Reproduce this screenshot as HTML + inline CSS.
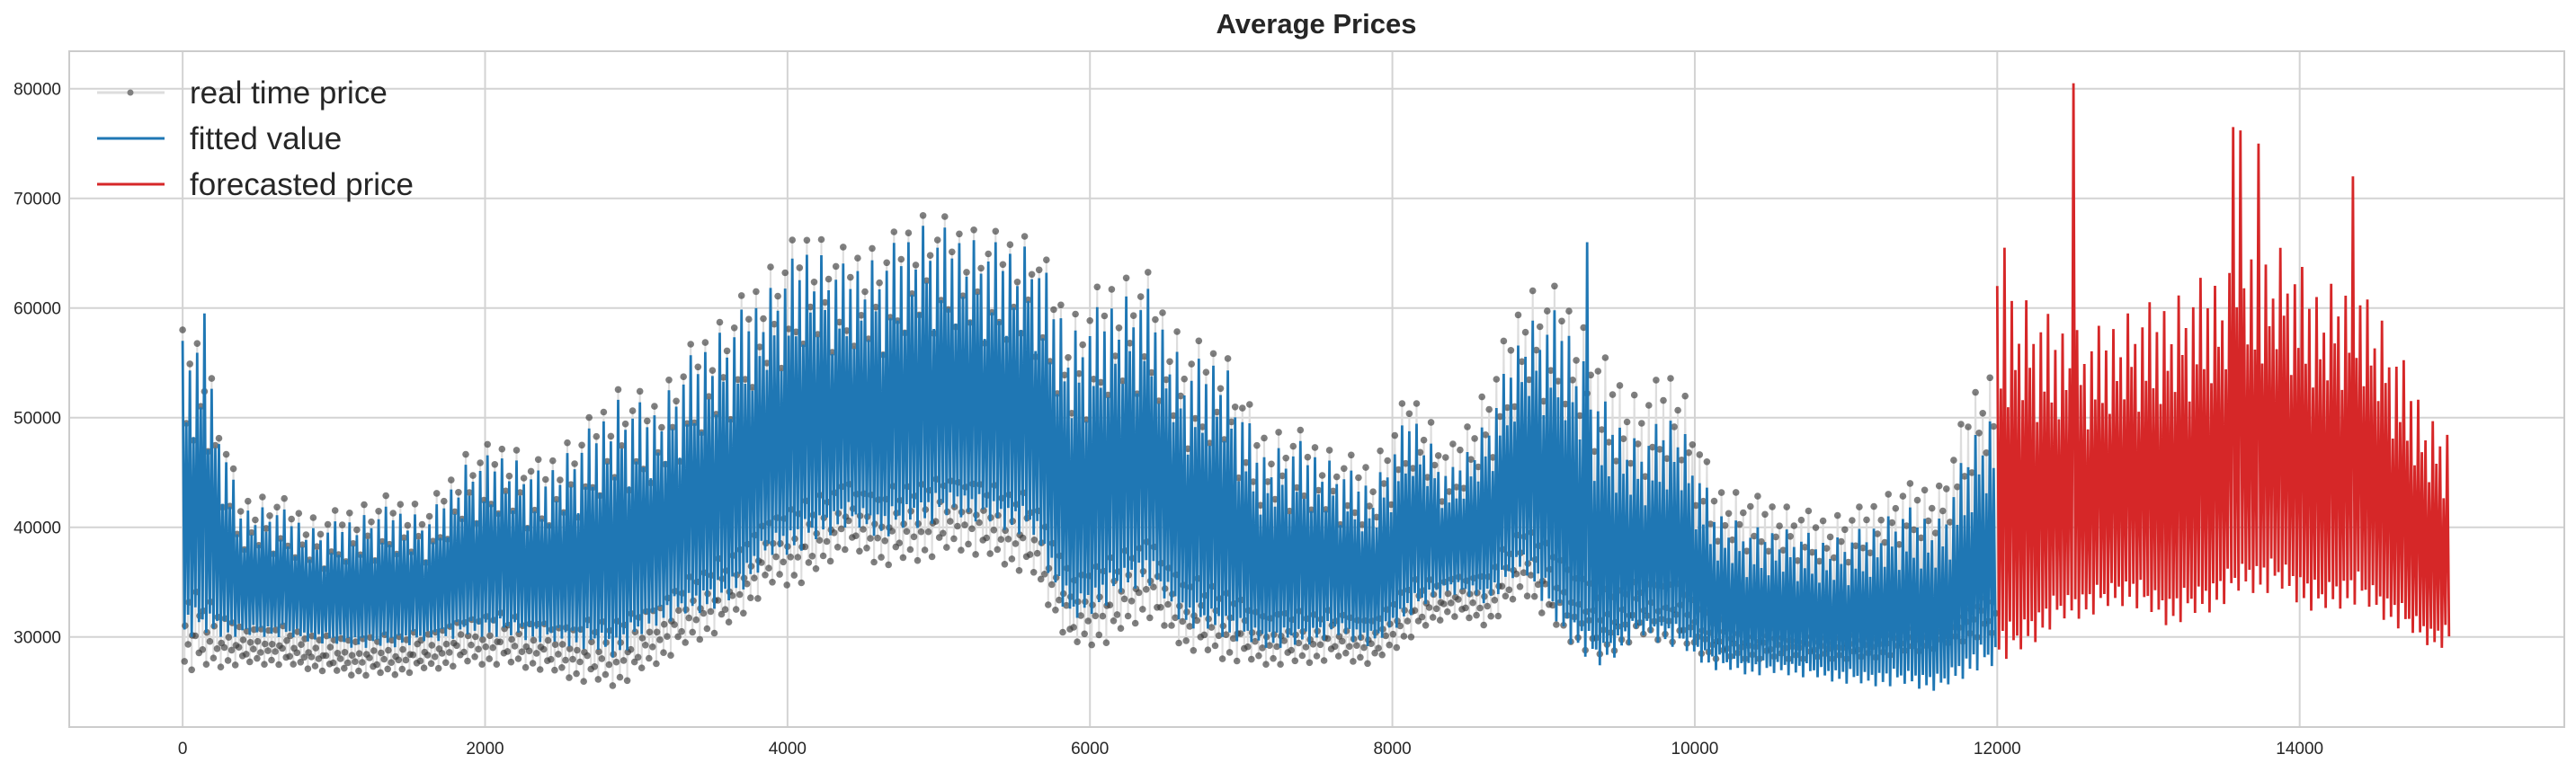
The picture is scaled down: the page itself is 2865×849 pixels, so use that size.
<!DOCTYPE html>
<html><head><meta charset="utf-8"><style>
html,body{margin:0;padding:0;background:#fff;}
svg{display:block;font-family:"Liberation Sans",sans-serif;}
</style></head><body>
<svg id="chart" width="2865" height="849" viewBox="0 0 2865 849">
<text x="1464" y="37" text-anchor="middle" font-size="31" font-weight="bold" fill="#262626">Average Prices</text>
<g id="grid"></g>
<g id="ticks"></g>
<g id="real"></g>
<g id="fit"></g>
<g id="fore"></g>
<rect x="77" y="57" width="2775" height="752" fill="none" stroke="#cccccc" stroke-width="2"/>
<g>
 <g>
  <line x1="108" y1="103" x2="183" y2="103" stroke="#dddddd" stroke-width="3"/>
  <circle cx="145" cy="103" r="3.5" fill="#808080"/>
  <text x="211" y="115" font-size="35" fill="#262626">real time price</text>
 </g>
 <g>
  <line x1="108" y1="154" x2="183" y2="154" stroke="#1f77b4" stroke-width="3"/>
  <text x="211" y="166" font-size="35" fill="#262626">fitted value</text>
 </g>
 <g>
  <line x1="108" y1="205" x2="183" y2="205" stroke="#d62728" stroke-width="3"/>
  <text x="211" y="217" font-size="35" fill="#262626">forecasted price</text>
 </g>
</g>
</svg>
<script>
// ---- data (segments of 250 time units) ----
const segSize = 250;
const fitHi = [57000,42000,42000,40000,41000,42000,41000,46000,47000,45000,48000,52000,51000,56000,59000,62000,66000,64000,65000,68000,67000,66000,66000,58000,61000,62000,55000,56000,47000,48000,46000,44000,51000,45000,50000,59000,60000,52000,48000,51000,42000,40000,40000,39000,40000,42000,41000,50000];
const fitLo = [30000,30000,30000,29500,29000,29000,29500,30000,30000,29500,29000,28000,31000,32000,33000,37000,38000,40000,39000,40000,41000,40000,39000,31000,33000,35000,31000,30000,29000,29000,30000,29000,32000,34000,33000,36000,30000,27000,30000,29000,27000,26500,26500,26000,25500,25500,25000,27000];
const realHi = [58000,43000,43000,41000,42000,43000,42000,47000,48000,46000,49000,53000,52000,57000,60000,64000,67500,65500,66000,69000,68000,67000,67000,59500,63000,63500,57000,57000,49000,49000,47000,46000,53000,47000,53000,62000,62000,56000,52000,55000,44000,43000,42000,41000,42000,44000,44000,54000];
const realLo = [27000,27500,27500,27000,26500,26500,27000,27500,27500,27000,26000,25500,27500,29500,31000,34500,35000,38000,36500,37000,38000,37000,35500,29000,29500,32000,29000,28000,27500,27500,28000,27500,30000,32000,31000,34000,30000,28000,30000,29500,28000,28000,28000,28000,28000,28500,29000,30000];
const foreStart = 12000;
const foreHi = [62000,59000,58000,60000,61000,63000,64000,66000,62000,64000,57000,50000];
const foreLo = [28000,31000,32000,33000,31000,32000,34000,34000,32000,33000,31000,29000];
const spikeX = [150,9300,12500,13560,13600,13720,14350,12060];
const spikeY = [59500,66000,80500,76500,76200,75000,72000,65500];
const spikeSeries = ['fit','fit','fore','fore','fore','fore','fore','fore'];
const xTicks = [0,2000,4000,6000,8000,10000,12000,14000];
const yTicks = [30000,40000,50000,60000,70000,80000];
// amplitude modulation pattern (shape of oscillations)
const shapeHi = [1,.45,.8,.35,.92,.55,.7,.4,.97,.6,.75,.3,.85,.5];
const shapeLo = [.95,.85,1,.8,.9,.88,.97,.82,.93,.86,1,.84];

// ---- axes ----
const X0=77, X1=2852, Y0=57, Y1=809;
const xMin=-750, xMax=15750, yMin=21780, yMax=83420;
const sx = v => X0 + (v-xMin)/(xMax-xMin)*(X1-X0);
const sy = v => Y1 - (v-yMin)/(yMax-yMin)*(Y1-Y0);
const NS="http://www.w3.org/2000/svg";
function mk(tag, parent, attrs){const e=document.createElementNS(NS,tag);for(const k in attrs)e.setAttribute(k,attrs[k]);parent.appendChild(e);return e;}

const grid=document.getElementById('grid'), ticks=document.getElementById('ticks');
xTicks.forEach(t=>{
  const l=mk('line',grid,{x1:sx(t),x2:sx(t),y1:Y0,y2:Y1,stroke:'#d3d3d3','stroke-width':2});
  
  
  const tx=mk('text',ticks,{x:sx(t),y:Y1+30,'text-anchor':'middle','font-size':19,fill:'#262626'});
  tx.textContent=t;
  
  
});
yTicks.forEach(t=>{
  const l=mk('line',grid,{x1:X0,x2:X1,y1:sy(t),y2:sy(t),stroke:'#d3d3d3','stroke-width':2});
  
  
  const tx=mk('text',ticks,{x:68,y:sy(t)+7,'text-anchor':'end','font-size':19,fill:'#262626'});
  tx.textContent=t;
  
  
});

// ---- series ----
const step=12;
function interp(arr, local){
  const c = local/segSize - 0.5;
  const i0 = Math.max(0, Math.min(arr.length-1, Math.floor(c)));
  const i1 = Math.max(0, Math.min(arr.length-1, Math.floor(c)+1));
  const f = Math.max(0, Math.min(1, c - Math.floor(c)));
  return arr[i0]*(1-f) + arr[i1]*f;
}
function buildPts(hiArr, loArr, start){
  const pts=[]; let i=0;
  const total = hiArr.length*segSize;
  for(let u=0; u<total; u+=step){
    const hi=interp(hiArr,u), lo=interp(loArr,u), mid=(hi+lo)/2;
    const up=(i%2===0);
    const v = up ? mid+(hi-mid)*shapeHi[(i>>1)%shapeHi.length] : mid-(mid-lo)*shapeLo[(i>>1)%shapeLo.length];
    pts.push([start+u,v]); i++;
  }
  return pts;
}
const fitPts = buildPts(fitHi, fitLo, 0);
const realPts = buildPts(realHi, realLo, 0);
const forePts = buildPts(foreHi, foreLo, foreStart);
spikeX.forEach((x,k)=>{
  const arr = spikeSeries[k]==='fit'?fitPts:forePts;
  let best=0,bd=1e9; arr.forEach((p,j)=>{const d=Math.abs(p[0]-x)+(j%2?1000:0); if(d<bd){bd=d;best=j;}});
  arr[best][1]=spikeY[k];
});

const realG=document.getElementById('real');
const rl=mk('polyline',realG,{points:realPts.map(p=>sx(p[0]).toFixed(1)+','+sy(p[1]).toFixed(1)).join(' '),fill:'none',stroke:'#dddddd','stroke-width':2});


realPts.forEach((p,j)=>{
  const c=mk('circle',realG,{cx:sx(p[0]).toFixed(1),cy:sy(p[1]).toFixed(1),r:3.8,fill:'#3a3a3a','fill-opacity':0.65});
  
  
  if(j%2===1 && j+1<realPts.length){
    // extra low-side observations clustered near the trough
    const q=realPts[j+1], v=p[1]+(q[1]-p[1])*0.15;
    const c2=mk('circle',realG,{cx:sx(p[0]+step*0.35).toFixed(1),cy:sy(v).toFixed(1),r:3.8,fill:'#3a3a3a','fill-opacity':0.65});
    
    
  }
});
const fl=mk('polyline',document.getElementById('fit'),{points:fitPts.map(p=>sx(p[0]).toFixed(1)+','+sy(p[1]).toFixed(1)).join(' '),fill:'none',stroke:'#1f77b4','stroke-width':2.8});


const fr=mk('polyline',document.getElementById('fore'),{points:forePts.map(p=>sx(p[0]).toFixed(1)+','+sy(p[1]).toFixed(1)).join(' '),fill:'none',stroke:'#d62728','stroke-width':2.8});


</script>
</body></html>
